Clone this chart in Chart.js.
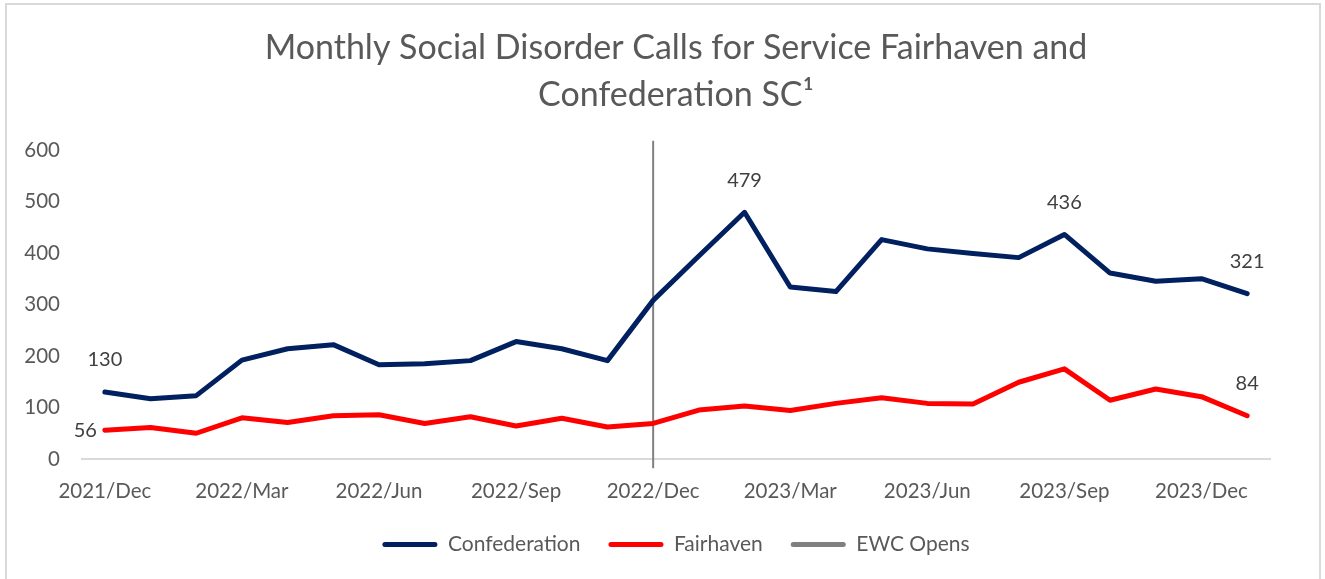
<!DOCTYPE html>
<html>
<head>
<meta charset="utf-8">
<script src="https://cdn.jsdelivr.net/npm/chart.js@4/dist/chart.umd.min.js"></script>
<style>
  html, body { margin: 0; padding: 0; background: #fff; }
  #wrap { position: relative; width: 1325px; height: 579px; overflow: hidden; }
  #frame { position: absolute; left: 5px; top: 3px; width: 1316px; height: 620px; border: 2px solid #d9d9d9; box-sizing: border-box; }
  canvas { position: absolute; left: 0; top: 0; }
</style>
</head>
<body>
<div id="wrap">
  <div id="frame"></div>
  <canvas id="myChart" width="1325" height="579"></canvas>
</div>
<script>
const months = ['2021/Dec',
  '2022/Jan','2022/Feb','2022/Mar','2022/Apr','2022/May','2022/Jun',
  '2022/Jul','2022/Aug','2022/Sep','2022/Oct','2022/Nov','2022/Dec',
  '2023/Jan','2023/Feb','2023/Mar','2023/Apr','2023/May','2023/Jun',
  '2023/Jul','2023/Aug','2023/Sep','2023/Oct','2023/Nov','2023/Dec',
  '2024/Jan']
const confederation = [130,117,123,192,214,222,183,185,191,228,214,191,308,
  394,479,334,325,426,408,399,391,436,361,345,350,321]
const fairhaven = [56,61,50,80,71,84,86,69,82,64,79,62,69,
  95,103,94,108,119,108,107,149,175,114,136,121,84]
const ewcMonth = '2022/Dec'
const ewcSpan = [-18, 618]
const yTicks = [0,100,200,300,400,500,600]

// which points carry a value label
const confLabelled = [0,14,21,25]
const fairLabelled = [0,25]

const textColor = '#595959'
const fontFamily = 'Lato, "Open Sans", sans-serif'

const pointLabels = {
    id: 'pointLabels',
    afterDatasetsDraw(chart) {
        const ctx = chart.ctx
        ctx.save()
        ctx.font = '20px ' + fontFamily
        ctx.fillStyle = '#404040'
        ctx.textBaseline = 'middle'
        const put = (dsIndex, list, leftFirst) => {
            const meta = chart.getDatasetMeta(dsIndex)
            list.forEach(i => {
                const pt = meta.data[i]
                const val = chart.data.datasets[dsIndex].data[i]
                if (leftFirst && i === 0) {
                    ctx.textAlign = 'right'
                    ctx.fillText(val, pt.x - 8, pt.y)
                } else {
                    ctx.textAlign = 'center'
                    ctx.fillText(val, pt.x, pt.y - 32)
                }
            })
        }
        put(0, confLabelled, false)
        put(1, fairLabelled, true)
        ctx.restore()
    }
}

const ctx = document.getElementById('myChart')
new Chart(ctx, {
    type: 'line',
    data: {
        labels: months,
        datasets: [{
            label: 'Confederation',
            data: confederation,
            borderColor: '#002060',
            backgroundColor: '#002060',
            borderWidth: 5,
            pointRadius: 0,
            tension: 0,
            borderCapStyle: 'round',
            borderJoinStyle: 'round'
        }, {
            label: 'Fairhaven',
            data: fairhaven,
            borderColor: '#ff0000',
            backgroundColor: '#ff0000',
            borderWidth: 5,
            pointRadius: 0,
            tension: 0,
            borderCapStyle: 'round',
            borderJoinStyle: 'round'
        }, {
            label: 'EWC Opens',
            data: ewcSpan.map(v => ({ x: ewcMonth, y: v })),
            borderColor: '#808080',
            backgroundColor: '#808080',
            borderWidth: 2,
            pointRadius: 0,
            clip: false
        }]
    },
    options: {
        responsive: false,
        animation: false,
        layout: { padding: { left: 24, right: 55, top: 0, bottom: 14 } },
        plugins: {
            title: {
                display: true,
                fullSize: false,
                text: ['Monthly Social Disorder Calls for Service Fairhaven and', 'Confederation SC\u00B9'],
                color: textColor,
                font: { family: fontFamily, size: 34, weight: 'normal', lineHeight: 1.382 },
                padding: { top: 24.5, bottom: 31.5 }
            },
            legend: {
                position: 'bottom',
                fullSize: false,
                labels: {
                    color: textColor,
                    font: { family: fontFamily, size: 21 },
                    boxWidth: 55,
                    boxHeight: 5,
                    padding: 28,
                    useBorderRadius: true,
                    borderRadius: 2.5,
                    generateLabels(chart) {
                        return Chart.defaults.plugins.legend.labels.generateLabels(chart)
                            .map(item => Object.assign(item, { lineWidth: 0 }))
                    }
                }
            },
            tooltip: { enabled: false }
        },
        scales: {
            x: {
                offset: true,
                grid: { display: false, drawTicks: false },
                border: { display: true, color: '#d9d9d9', width: 2 },
                ticks: {
                    color: textColor,
                    font: { family: fontFamily, size: 20.5 },
                    padding: 20,
                    autoSkip: false,
                    maxRotation: 0,
                    callback(value, index) {
                        return index % 3 === 0 ? this.getLabelForValue(value) : ''
                    }
                },
                afterFit(scale) { scale.height = 47 }
            },
            y: {
                min: 0,
                max: 600,
                grid: { display: false, drawTicks: false },
                border: { display: false },
                afterBuildTicks(scale) { scale.ticks = yTicks.map(v => ({ value: v })) },
                ticks: {
                    color: textColor,
                    font: { family: fontFamily, size: 20.5 },
                    padding: 22
                },
                afterFit(scale) { scale.width = 58 }
            }
        }
    },
    plugins: [pointLabels]
})
</script>
</body>
</html>
